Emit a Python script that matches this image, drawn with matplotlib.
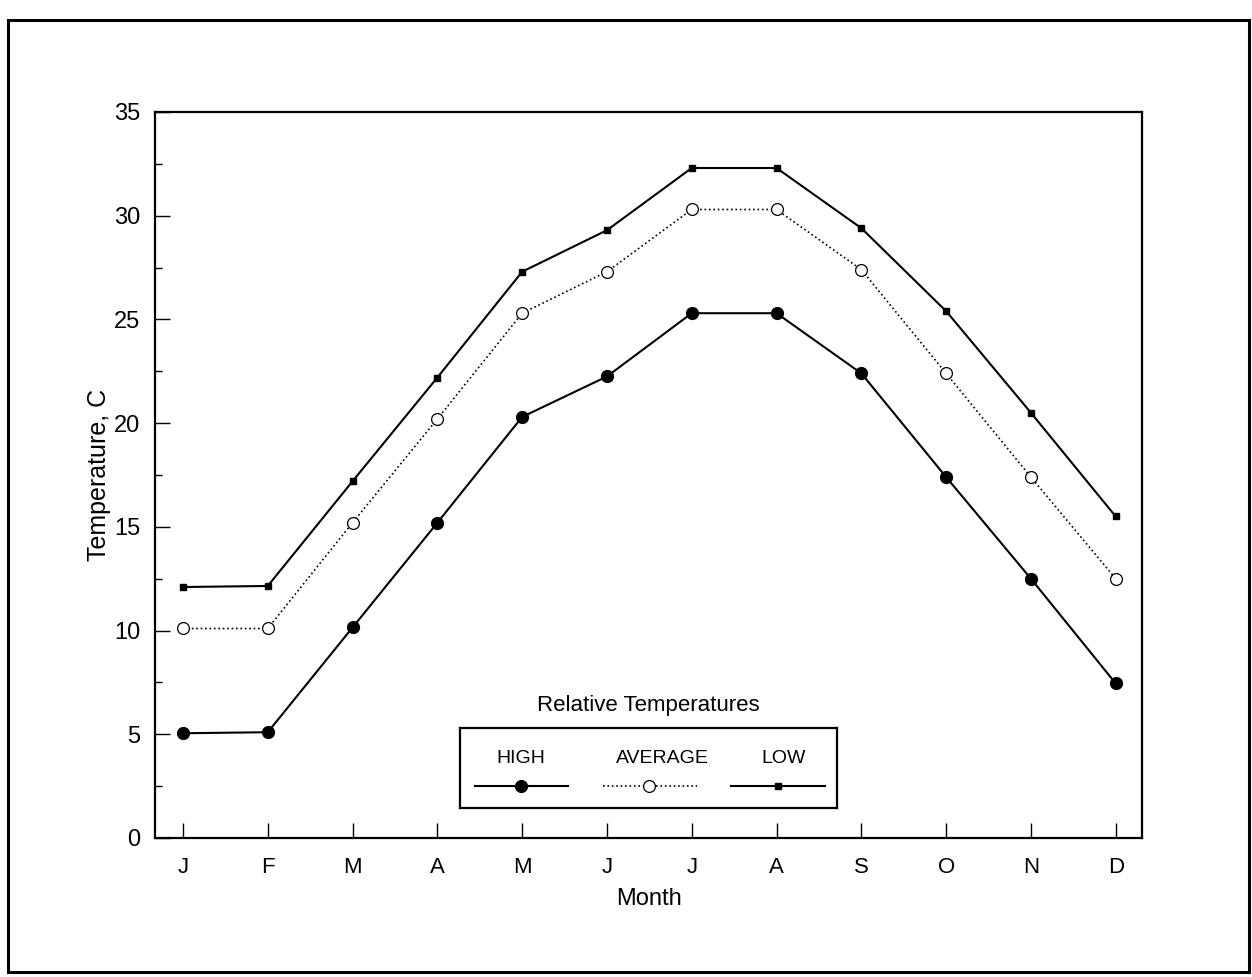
import numpy as np
import matplotlib
matplotlib.use('Agg')
import matplotlib.pyplot as plt
from matplotlib.patches import Rectangle

plt.rcParams['font.family'] = ['Liberation Sans', 'DejaVu Sans']

months = ['J', 'F', 'M', 'A', 'M', 'J', 'J', 'A', 'S', 'O', 'N', 'D']
high = [5.05, 5.1, 10.15, 15.2, 20.3, 22.25, 25.3, 25.3, 22.4, 17.4, 12.5, 7.45]
average = [10.1, 10.1, 15.2, 20.2, 25.3, 27.3, 30.3, 30.3, 27.4, 22.4, 17.4, 12.5]
low = [12.1, 12.15, 17.2, 22.2, 27.3, 29.3, 32.3, 32.3, 29.4, 25.4, 20.5, 15.5]
series_names = ['HIGH', 'AVERAGE', 'LOW']

W, H = 1252, 977
fig = plt.figure(figsize=(W / 100, H / 100), dpi=100)

# outer frame around the whole figure
fig.patches.append(Rectangle((8 / W, 1 - 972 / H), (1249 - 8) / W, (972 - 20) / H,
                             transform=fig.transFigure, fill=False, lw=2.2, color='black'))

ax = fig.add_axes([155 / W, 1 - 838 / H, (1142 - 155) / W, (838 - 112) / H])

x = np.arange(len(months))
styles = {
    'HIGH': dict(color='black', lw=1.5, ls='-', marker='o', ms=8.5, mfc='black', mec='black'),
    'AVERAGE': dict(color='black', lw=1.2, ls=':', marker='o', ms=8.5, mfc='white', mec='black', mew=0.9),
    'LOW': dict(color='black', lw=1.5, ls='-', marker='s', ms=4.2, mfc='black', mec='black'),
}
for name, vals in zip(series_names, [high, average, low]):
    ax.plot(x, vals, **styles[name])

ax.set_xlim(-0.33, 11.31)
ax.set_ylim(0, 35)
ax.set_xticks(x)
ax.set_xticklabels(months)
ax.set_yticks(np.arange(0, 36, 5))
ax.set_yticks(np.arange(2.5, 35, 5), minor=True)
ax.tick_params(axis='both', which='major', direction='in', length=11, width=1,
               labelsize=16)
ax.tick_params(axis='x', which='major', pad=14)
ax.tick_params(axis='y', which='major', pad=10.5, labelsize=17)
ax.tick_params(axis='y', which='minor', direction='in', length=5, width=1)
for s in ax.spines.values():
    s.set_linewidth(1.6)

ax.set_xlabel('Month', fontsize=17, labelpad=7)
ax.set_ylabel('Temperature, C', fontsize=18, labelpad=2)

# legend drawn as its own little box, labels above the line samples
fig.text(648 / W, 1 - 706 / H, 'Relative Temperatures', ha='center', va='center', fontsize=16)
lax = fig.add_axes([460 / W, 1 - 808 / H, (837 - 460) / W, (808 - 728) / H])
lax.set_xlim(0, 1)
lax.set_ylim(0, 1)
lax.set_xticks([])
lax.set_yticks([])
for s in lax.spines.values():
    s.set_linewidth(1.6)
seg = [(0.04, 0.162, 0.286, 0.162), (0.379, 0.5, 0.629, 0.536), (0.719, 0.843, 0.968, 0.857)]
for name, (x0, xm, x1, xt) in zip(series_names, seg):
    lax.plot([x0, xm, x1], [0.275] * 3, markevery=[1], **styles[name])
    lax.text(xt, 0.62, name, ha='center', va='center', fontsize=14)

fig.savefig('out.png', dpi=100)
